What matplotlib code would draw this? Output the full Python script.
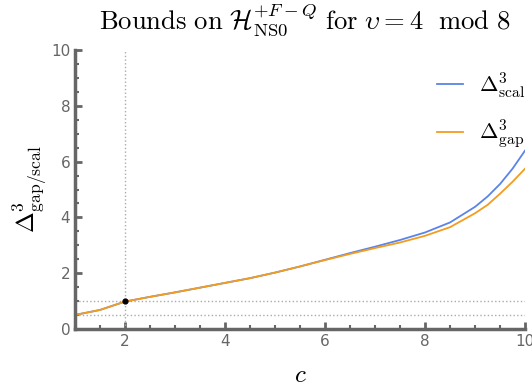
import matplotlib
matplotlib.use('Agg')
import matplotlib.pyplot as plt
from matplotlib.ticker import MultipleLocator

plt.rcParams['mathtext.fontset'] = 'cm'

# values
c_vals = [1.0, 1.5, 2.0, 2.5, 3.0, 3.5, 4.0, 4.5, 5.0, 5.5, 6.0, 6.5, 7.0, 7.5, 8.0, 8.5, 9.0, 9.25, 9.5, 9.75, 10.0]
scal = [0.50, 0.68, 0.98, 1.15, 1.31, 1.48, 1.65, 1.82, 2.02, 2.24, 2.48, 2.72, 2.95, 3.19, 3.46, 3.82, 4.38, 4.75, 5.20, 5.75, 6.40]
gap = [0.50, 0.68, 0.98, 1.15, 1.31, 1.48, 1.65, 1.82, 2.02, 2.24, 2.47, 2.69, 2.90, 3.10, 3.34, 3.65, 4.15, 4.45, 4.85, 5.28, 5.75]
point_c, point_y = [2.0], [1.0]
hlines = [1.0, 0.5]

fig = plt.figure(figsize=(5.32, 3.92), dpi=100)
ax = fig.add_axes([0.141, 0.161, 0.846, 0.711])

grey = '#666666'
ax.axvline(2, color='#aaaaaa', ls=':', lw=1)
for h in hlines:
    ax.axhline(h, color='#aaaaaa', ls=':', lw=1)

ax.plot(c_vals, scal, color='#5B84E8', lw=1.3, label=r'$\Delta^3_{\rm scal}$')
ax.plot(c_vals, gap, color='#F39C1E', lw=1.3, label=r'$\Delta^3_{\rm gap}$')
ax.scatter(point_c, point_y, s=12, color='black', zorder=5)

ax.set_xlim(1, 10)
ax.set_ylim(0, 10)
ax.xaxis.set_major_locator(MultipleLocator(2))
ax.xaxis.set_minor_locator(MultipleLocator(0.5))
ax.yaxis.set_major_locator(MultipleLocator(2))
ax.yaxis.set_minor_locator(MultipleLocator(0.5))
ax.tick_params(which='both', direction='in', color=grey, labelcolor=grey, labelsize=11)
ax.tick_params(which='major', length=5, width=2)
ax.tick_params(which='minor', length=3, width=1.5)
for s in ['top', 'right']:
    ax.spines[s].set_visible(False)
for s in ['left', 'bottom']:
    ax.spines[s].set_color(grey)
    ax.spines[s].set_linewidth(2.5)

ax.set_xlabel(r'$c$', fontsize=18, labelpad=10)
ax.set_ylabel(r'$\Delta^3_{\rm gap/scal}$', fontsize=18, labelpad=1)
ax.set_title(r'$\mathrm{Bounds\ on}\ \mathcal{H}^{+F-Q}_{\rm NS0}\ \mathrm{for}\ \upsilon=4\ \ \mathrm{mod}\ 8$',
             fontsize=19.2, pad=15, x=0.511)

ax.legend(loc='upper right', frameon=False, fontsize=16, handlelength=1.2,
          handletextpad=0.7, labelspacing=0.8, bbox_to_anchor=(1.045, 1.0))

plt.savefig('out.png', dpi=100)
